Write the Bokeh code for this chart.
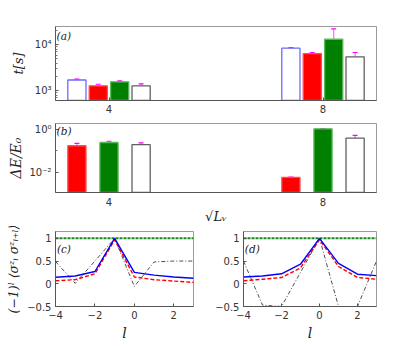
from bokeh.plotting import figure
from bokeh.models import (FixedTicker, CustomJSTickFormatter, Whisker, TeeHead, ColumnDataSource,
                          Label, Range1d)
from bokeh.layouts import column, row
from bokeh.embed import file_html
from bokeh.resources import INLINE

# ---------------- data ----------------
Lv = [4, 8]
# panel (a): runtime t[s]
t_blue = [1720, 8450]
t_blue_lo = [1650, 8200]
t_blue_hi = [1790, 8700]
t_red = [1285, 6450]
t_red_lo = [1170, 6100]
t_red_hi = [1390, 6800]
t_green = [1570, 13200]
t_green_lo = [1450, 5000]
t_green_hi = [1650, 22300]
t_gray = [1285, 5470]
t_gray_lo = [1090, 3900]
t_gray_hi = [1420, 6800]
# panel (b): Delta E / E0
e_red = [0.17, 0.0059]
e_red_lo = [0.13, 0.0057]
e_red_hi = [0.22, 0.0061]
e_green = [0.24, 1.03]
e_green_lo = [0.195, 1.0]
e_green_hi = [0.275, 1.06]
e_gray = [0.19, 0.38]
e_gray_lo = [0.145, 0.28]
e_gray_hi = [0.23, 0.51]
# panels (c), (d): correlations
l_vals = [-4, -3, -2, -1, 0, 1, 2, 3]
c_blue = [0.145, 0.17, 0.27, 1.0, 0.25, 0.19, 0.15, 0.12]
c_red = [0.065, 0.09, 0.22, 0.97, 0.15, 0.09, 0.06, 0.03]
c_black = [0.49, 0.01, 0.5, 1.0, -0.06, 0.48, 0.5, 0.5]
c_green = [1, 1, 1, 1, 1, 1, 1, 1]
d_blue = [0.15, 0.17, 0.22, 0.43, 1.0, 0.45, 0.21, 0.18]
d_red = [0.065, 0.1, 0.137, 0.35, 0.97, 0.38, 0.14, 0.10]
d_black = [0.5, -0.47, -0.5, 0.25, 1.0, -0.5, -0.5, 0.5]
d_green = [1, 1, 1, 1, 1, 1, 1, 1]

BLUE = "#6a6aff"
RED = "#ff0000"
GREEN = "#008000"
GRAY = "#606060"
MAG = "#ff00ff"
TICKFONT = "DejaVu Sans"
SERIF = "DejaVu Serif"

sup_js = """
const sup = {'-':'\u207b','0':'\u2070','1':'\u00b9','2':'\u00b2','3':'\u00b3','4':'\u2074','5':'\u2075','6':'\u2076','7':'\u2077','8':'\u2078','9':'\u2079'};
const e = Math.round(Math.log10(tick));
return '10' + String(e).split('').map(c => sup[c]).join('');
"""


def style(p, yfs="10px"):
    p.outline_line_color = "#9a9a9a"
    p.background_fill_color = "white"
    p.border_fill_color = "white"
    p.grid.visible = False
    for ax in p.axis:
        ax.axis_line_color = "#555555"
        ax.major_tick_in = 3
        ax.major_tick_out = 0
        ax.minor_tick_in = 2
        ax.minor_tick_out = 0
        ax.major_tick_line_color = "#555555"
        ax.minor_tick_line_color = "#777777"
        ax.major_label_text_font = TICKFONT
        ax.major_label_text_font_size = yfs
        ax.major_label_text_color = "#333333"
        ax.axis_label_text_font = SERIF
        ax.axis_label_text_font_style = "italic"
        ax.axis_label_text_color = "#222222"


def add_whisker(p, xs, lo, hi, off):
    src = ColumnDataSource(dict(x=[x + off for x in xs], lo=lo, hi=hi))
    w = Whisker(source=src, base="x", lower="lo", upper="hi", dimension="height",
                line_color=MAG, line_alpha=0.6, line_width=1.2,
                upper_head=TeeHead(size=5, line_color=MAG, line_width=1.2),
                lower_head=TeeHead(size=5, line_color=MAG, line_width=1.2))
    p.add_layout(w)


W = 400
BW = 0.34

# ---------------- panel (a) ----------------
pa = figure(width=W, height=118, output_backend="svg", toolbar_location=None,
            x_range=Range1d(3, 9), y_range=Range1d(616, 25000), y_axis_type="log",
            min_border_left=55, min_border_right=24, min_border_top=26, min_border_bottom=18)
series_a = [(t_blue, t_blue_lo, t_blue_hi, -0.6, "white", BLUE),
            (t_red, t_red_lo, t_red_hi, -0.2, RED, "#ff5050"),
            (t_green, t_green_lo, t_green_hi, 0.2, GREEN, "#5cb85c"),
            (t_gray, t_gray_lo, t_gray_hi, 0.6, "white", GRAY)]
for vals, lo, hi, off, fc, lc in series_a:
    pa.vbar(x=[x + off for x in Lv], top=vals, bottom=1, width=BW,
            fill_color=fc, line_color=lc, line_width=1.3)
for vals, lo, hi, off, fc, lc in series_a:
    add_whisker(pa, Lv, lo, hi, off)
style(pa)
pa.xaxis.ticker = FixedTicker(ticks=Lv)
pa.yaxis.ticker = FixedTicker(ticks=[1000, 10000],
                              minor_ticks=[700, 800, 900, 2000, 3000, 4000, 5000, 6000, 7000, 8000, 9000, 20000])
pa.yaxis.formatter = CustomJSTickFormatter(code=sup_js)
pa.yaxis.axis_label = "t[s]"
pa.yaxis.axis_label_text_font_size = "13px"
pa.yaxis.axis_label_standoff = 6
pa.yaxis.major_label_standoff = 4
pa.xaxis.major_label_standoff = 4
pa.add_layout(Label(x=3.02, y=21000, text="(a)", text_font=SERIF, text_font_style="italic",
                    text_font_size="10.5px", text_baseline="top", text_color="#222222"))

# ---------------- panel (b) ----------------
pb = figure(width=W, height=108, output_backend="svg", toolbar_location=None,
            x_range=Range1d(3, 9), y_range=Range1d(0.00117, 1.82), y_axis_type="log",
            min_border_left=55, min_border_right=24, min_border_top=5, min_border_bottom=29)
series_b = [(e_red, e_red_lo, e_red_hi, -0.6, RED, "#ff5050"),
            (e_green, e_green_lo, e_green_hi, 0.0, GREEN, "#5cb85c"),
            (e_gray, e_gray_lo, e_gray_hi, 0.6, "white", GRAY)]
for vals, lo, hi, off, fc, lc in series_b:
    pb.vbar(x=[x + off for x in Lv], top=vals, bottom=1e-6, width=BW,
            fill_color=fc, line_color=lc, line_width=1.3)
for vals, lo, hi, off, fc, lc in series_b:
    add_whisker(pb, Lv, lo, hi, off)
style(pb)
pb.xaxis.ticker = FixedTicker(ticks=Lv)
pb.yaxis.ticker = FixedTicker(ticks=[1, 0.01], minor_ticks=[0.001, 0.1])
pb.yaxis.formatter = CustomJSTickFormatter(code=sup_js)
pb.yaxis.axis_label = "\u0394E/E\u2080"
pb.yaxis.axis_label_text_font_size = "14px"
pb.yaxis.axis_label_standoff = 2
pb.yaxis.major_label_standoff = 4
pb.xaxis.axis_label = "\u221aL\u1d65"
pb.xaxis.axis_label_text_font_size = "13px"
pb.xaxis.axis_label_standoff = 0
pb.xaxis.major_label_standoff = 5
pb.add_layout(Label(x=3.02, y=1.5, text="(b)", text_font=SERIF, text_font_style="italic",
                    text_font_size="10.5px", text_baseline="top", text_color="#222222"))


# ---------------- panels (c), (d) ----------------
def corr_panel(width, bl, br, blue, red, black, green, tag, ylabel=None):
    p = figure(width=width, height=118, output_backend="svg", toolbar_location=None,
               x_range=Range1d(-4, 3), y_range=Range1d(-0.5, 1.15),
               min_border_left=bl, min_border_right=br, min_border_top=5, min_border_bottom=38)
    p.line(l_vals, green, line_color="#1a8a1a", line_width=2, line_dash="3 1")
    p.line(l_vals, black, line_color="#222222", line_width=0.8, line_dash="4 2 1 2")
    p.line(l_vals, red, line_color=RED, line_width=1.4, line_dash="4 2")
    p.line(l_vals, blue, line_color="#0000ff", line_width=1.4)
    style(p, "10px")
    p.xaxis.ticker = FixedTicker(ticks=[-4, -2, 0, 2])
    p.yaxis.ticker = FixedTicker(ticks=[-0.5, 0, 0.5, 1])
    p.xaxis.axis_label = "l"
    p.xaxis.axis_label_text_font_size = "14px"
    p.xaxis.axis_label_standoff = 3
    p.xaxis.major_label_standoff = 4
    p.yaxis.major_label_standoff = 4
    if ylabel:
        p.yaxis.axis_label = ylabel
        p.yaxis.axis_label_text_font_size = "12.5px"
        p.yaxis.axis_label_standoff = 3
    p.add_layout(Label(x=-3.93, y=0.9, text=tag, text_font=SERIF, text_font_style="italic",
                       text_font_size="10.5px", text_baseline="top", text_color="#222222"))
    return p


pc = corr_panel(212, 55, 19, c_blue, c_red, c_black, c_green, "(c)",
                ylabel="(\u22121)\u02e1 \u27e8\u03c3\u1dbb\u1d62 \u03c3\u1dbb\u1d62\u208a\u2097\u27e9")
pd_ = corr_panel(188, 24, 24, d_blue, d_red, d_black, d_green, "(d)")

layout = column(pa, pb, row(pc, pd_))
open("out.html", "w").write(file_html(layout, INLINE))
